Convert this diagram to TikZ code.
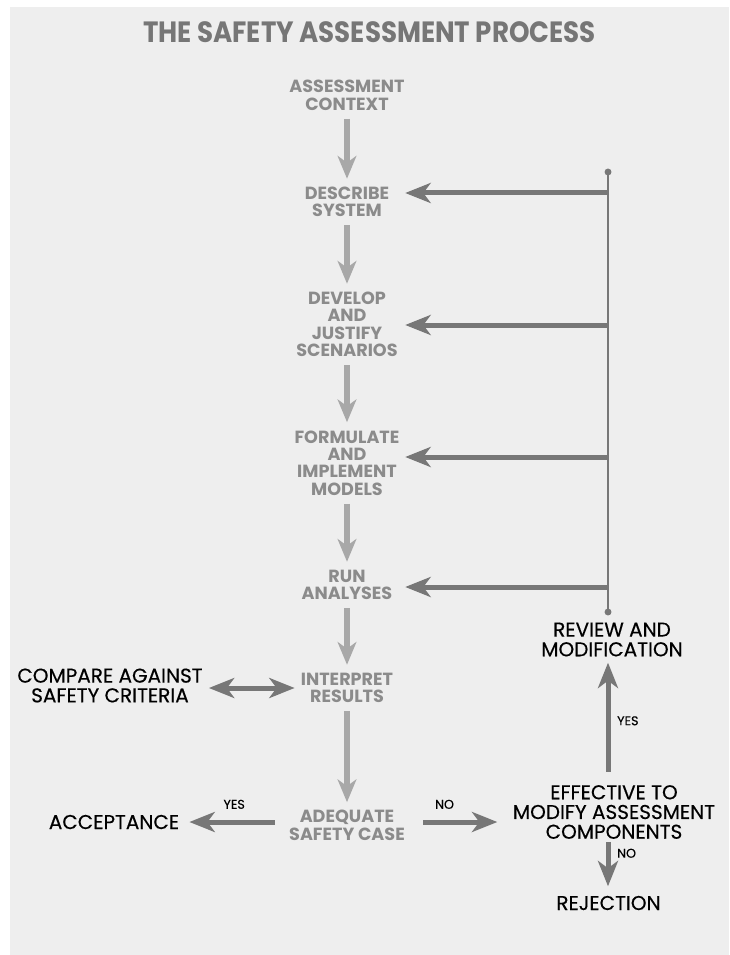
\documentclass[tikz,border=0pt]{standalone}
\usepackage{fontspec}
\setmainfont{Poppins}
\newfontfamily\outcomefont[FakeBold=0.35]{Poppins}
\usepackage{graphicx}
\usepackage{tikz}
\usetikzlibrary{arrows.meta, positioning}
\definecolor{panel}{HTML}{EEEEEE}
\definecolor{titlegray}{HTML}{767676}
\definecolor{stagegray}{HTML}{8B8B8B}
\definecolor{flowgray}{HTML}{A8A8A8}
\definecolor{loopgray}{HTML}{777777}

\begin{document}
\begin{tikzpicture}[x=0.75pt, y=-0.75pt,
			stage/.style={text=stagegray, font=\bfseries\fontsize{13.2pt}{13.1pt}\selectfont, align=center, inner xsep=4.5pt, inner ysep=0pt},
			loopin/.style={text width=80pt, inner xsep=3.5pt},
			outcome/.style={text=black, font=\outcomefont\fontsize{15pt}{14.8pt}\selectfont, align=center, inner xsep=4.5pt, inner ysep=0pt},
			tag/.style={text=black, font=\outcomefont\fontsize{9.5pt}{10pt}\selectfont, inner sep=0pt},
			flow/.style={-{Stealth[length=17pt, width=14pt, inset=5pt]}, draw=flowgray, line width=4.5pt, shorten <=6pt, shorten >=6pt},
			loop/.style={-{Stealth[length=19pt, width=15pt, inset=5.5pt]}, draw=loopgray, line width=3.75pt},
			rail/.style={draw=loopgray, line width=1.5pt}]

			\useasboundingbox (0,0) rectangle (729,955);
			\fill[panel] (10,7) rectangle (729,955);

			\node (title) at (369.5,32) {\color{titlegray}\bfseries\fontsize{22pt}{24pt}\selectfont\scalebox{0.89}[1]{THE SAFETY ASSESSMENT PROCESS}};

			\node[stage] (ctx) at (347,95.5) {ASSESSMENT\\CONTEXT};
			\node[stage, loopin] (desc) at (347,202) {DESCRIBE\\SYSTEM};
			\node[stage, loopin] (scen) at (347,324.5) {DEVELOP\\AND\\JUSTIFY\\SCENARIOS};
			\node[stage, loopin] (models) at (347,463) {FORMULATE\\AND\\IMPLEMENT\\MODELS};
			\node[stage, loopin] (run) at (347,585) {RUN\\ANALYSES};
			\node[stage] (interp) at (347,688) {INTERPRET\\RESULTS};
			\node[stage] (adeq) at (347,825.5) {ADEQUATE\\SAFETY CASE};

			\node[outcome] (compare) at (110,685.5) {COMPARE AGAINST\\SAFETY CRITERIA};
			\node[outcome] (accept) at (114,822) {ACCEPTANCE};
			\node[outcome] (review) at (612,639.5) {REVIEW AND\\MODIFICATION};
			\node[outcome] (effect) at (614,812) {EFFECTIVE TO\\MODIFY ASSESSMENT\\COMPONENTS};
			\node[outcome] (reject) at (608.5,903) {REJECTION};

			\coordinate (fbtop) at (608,172);
			\coordinate (fbbot) at (608,612);
			\coordinate (fb1) at (608,193);
			\coordinate (fb2) at (608,325);
			\coordinate (fb3) at (608,457);
			\coordinate (fb4) at (608,587);

			\draw[flow] (ctx) -- (desc);
			\draw[flow] (desc) -- (scen);
			\draw[flow] (scen) -- (models);
			\draw[flow] (models) -- (run);
			\draw[flow] (run) -- (interp);
			\draw[flow] (interp) -- (adeq);

			\draw[rail] (fbtop) -- (fbbot);
			\fill[loopgray] (fbtop) circle (2.6pt);
			\fill[loopgray] (fbbot) circle (2.6pt);
			\draw[loop] (fb1) -- (desc.east |- fb1);
			\draw[loop] (fb2) -- (scen.east |- fb2);
			\draw[loop] (fb3) -- (models.east |- fb3);
			\draw[loop] (fb4) -- (run.east |- fb4);

			\draw[loop, {Stealth[length=19pt, width=15pt, inset=5.5pt]}-{Stealth[length=19pt, width=15pt, inset=5.5pt]}] (compare.east |- interp) -- (interp);
			\draw[loop, shorten <=6pt, shorten >=3pt] (adeq.west |- accept) -- (accept) node[tag, midway, above=8pt] (yes1) {YES};
			\draw[loop, shorten <=9pt, shorten >=7pt] (adeq.east |- accept) -- (effect.west |- accept) node[tag, pos=0.35, above=8pt] (no1) {NO};
			\draw[loop, shorten <=10pt, shorten >=4.5pt] (effect.north -| fbbot) -- (review.south -| fbbot) node[tag, midway, right=5pt] (yes2) {YES};
			\draw[loop, shorten <=2pt, shorten >=7pt] (effect.south -| fbbot) -- (reject.north -| fbbot) node[tag, pos=0.25, right=5pt] (no2) {NO};
		\end{tikzpicture}
\end{document}
